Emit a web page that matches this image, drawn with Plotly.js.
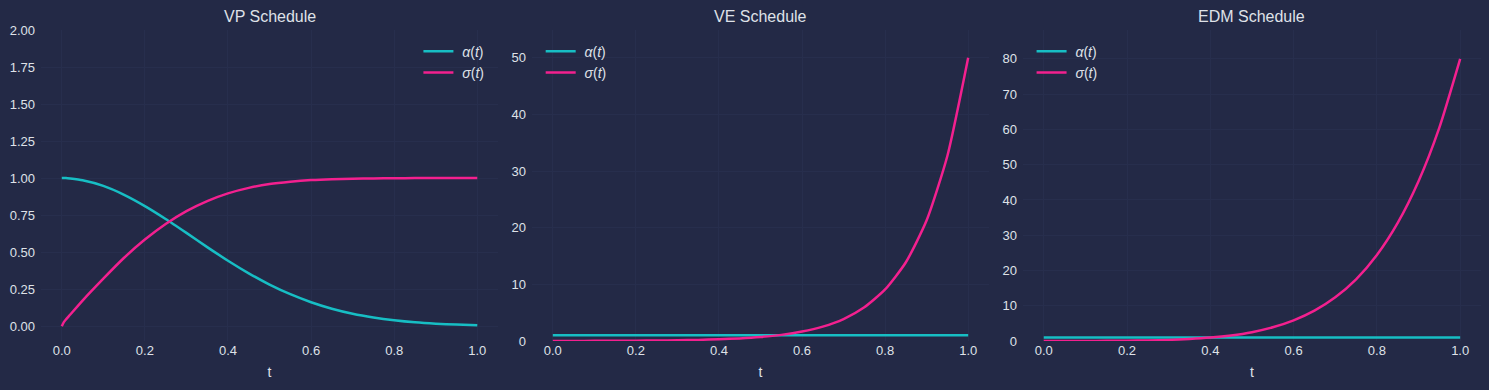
<!DOCTYPE html>
<html>
<head>
<meta charset="utf-8">
<script src="https://cdn.plot.ly/plotly-3.0.1.min.js"></script>
<style>
html,body{margin:0;padding:0;background:#232946;}
#chart{width:1489px;height:390px;}
</style>
</head>
<body>
<div id="chart"></div>
<script>
// Time grid (t)
const tGrid = [0, 0.005, 0.01, 0.02, 0.05, 0.1, 0.15, 0.2, 0.25, 0.3, 0.35, 0.4, 0.45, 0.5, 0.55, 0.6, 0.65, 0.7, 0.75, 0.8, 0.85, 0.9, 0.95, 1.0];

// VP schedule
const vpAlpha = [1.000, 1.000, 1.000, 0.997, 0.985, 0.947, 0.887, 0.811, 0.724, 0.630, 0.534, 0.442, 0.357, 0.281, 0.216, 0.162, 0.118, 0.084, 0.059, 0.040, 0.026, 0.017, 0.011, 0.007];
const vpSigma = [0.000, 0.027, 0.045, 0.077, 0.173, 0.321, 0.462, 0.585, 0.690, 0.777, 0.845, 0.897, 0.934, 0.960, 0.976, 0.987, 0.993, 0.996, 0.998, 0.999, 1.000, 1.000, 1.000, 1.000];

// VE schedule
const veAlpha = [1, 1, 1, 1, 1, 1, 1, 1, 1, 1, 1, 1, 1, 1, 1, 1, 1, 1, 1, 1, 1, 1, 1, 1];
const veSigma = [0.010, 0.010, 0.011, 0.012, 0.015, 0.023, 0.036, 0.055, 0.084, 0.129, 0.197, 0.302, 0.462, 0.707, 1.08, 1.66, 2.54, 3.88, 5.95, 9.10, 13.9, 21.3, 32.7, 50.0];

// EDM schedule
const edmAlpha = [1, 1, 1, 1, 1, 1, 1, 1, 1, 1, 1, 1, 1, 1, 1, 1, 1, 1, 1, 1, 1, 1, 1, 1];
const edmSigma = [0.002, 0.002, 0.003, 0.004, 0.006, 0.017, 0.040, 0.085, 0.170, 0.318, 0.566, 0.965, 1.58, 2.51, 3.88, 5.84, 8.59, 12.4, 17.5, 24.4, 33.5, 45.3, 60.5, 80.0];

const panelTitles = ["VP Schedule", "VE Schedule", "EDM Schedule"];
const seriesNames = ["\u00a0<i>α</i>(<i>t</i>)", "\u00a0<i>σ</i>(<i>t</i>)"];
const xTickVals = [0, 0.2, 0.4, 0.6, 0.8, 1.0];
const vpYTicks = [0, 0.25, 0.5, 0.75, 1.0, 1.25, 1.5, 1.75, 2.0];
const veYTicks = [0, 10, 20, 30, 40, 50];
const edmYTicks = [0, 10, 20, 30, 40, 50, 60, 70, 80];

const cAlpha = "#17bec4";
const cSigma = "#f3208f";
const bg = "#232946";
const grid = "#272e4d";
const txt = "#dfe1e8";
const fontFam = "Liberation Sans, Arial, sans-serif";

function mk(y, name, color, xa, ya, lg) {
  return {x: tGrid, y: y, name: name, type: "scatter", mode: "lines",
    line: {color: color, width: 2.5, shape: "spline", smoothing: 0.6},
    xaxis: xa, yaxis: ya, legend: lg, hoverinfo: "skip"};
}

const data = [
  mk(vpAlpha, seriesNames[0], cAlpha, "x", "y", "legend"),
  mk(vpSigma, seriesNames[1], cSigma, "x", "y", "legend"),
  mk(veAlpha, seriesNames[0], cAlpha, "x2", "y2", "legend2"),
  mk(veSigma, seriesNames[1], cSigma, "x2", "y2", "legend2"),
  mk(edmAlpha, seriesNames[0], cAlpha, "x3", "y3", "legend3"),
  mk(edmSigma, seriesNames[1], cSigma, "x3", "y3", "legend3")
];

const doms = [[0, 0.3174], [0.3410, 0.6583], [0.6819, 1]];

function xax(dom, anchor) {
  return {domain: dom, anchor: anchor, range: [-0.05, 1.05], tickvals: xTickVals, tickformat: ".1f",
    showgrid: true, gridcolor: grid, zeroline: false, showline: false, ticks: "",
    tickfont: {size: 13, color: txt}, title: {text: "t", font: {size: 14, color: txt}, standoff: 10}};
}
function yax(range, ticks, fmt, anchor) {
  return {range: range, tickvals: ticks, tickformat: fmt, anchor: anchor,
    showgrid: true, gridcolor: grid, zeroline: false, showline: false, ticks: "",
    ticklabelstandoff: 5, tickfont: {size: 13, color: txt}};
}
function lgd(x, xanchor) {
  return {x: x, xanchor: xanchor, y: 0.982, yanchor: "top", xref: "paper", yref: "paper",
    bgcolor: "rgba(0,0,0,0)", borderwidth: 0, font: {size: 14, color: txt, family: fontFam},
    itemwidth: 30, tracegroupgap: 0};
}

const annotations = panelTitles.map((t, i) => ({
  text: t, xref: "paper", yref: "paper", x: (doms[i][0] + doms[i][1]) / 2, y: 1,
  xanchor: "center", yanchor: "bottom", yshift: 3, showarrow: false,
  font: {size: 16, color: txt, family: fontFam}
}));

const layout = {
  width: 1489, height: 390,
  paper_bgcolor: bg, plot_bgcolor: bg,
  font: {family: fontFam, color: txt},
  margin: {l: 41, r: 8, t: 30, b: 49},
  showlegend: true,
  xaxis: xax(doms[0], "y"),
  xaxis2: xax(doms[1], "y2"),
  xaxis3: xax(doms[2], "y3"),
  yaxis: yax([-0.1, 2.0], vpYTicks, ".2f", "x"),
  yaxis2: yax([0, 54.9], veYTicks, "d", "x2"),
  yaxis3: yax([0, 88.2], edmYTicks, "d", "x3"),
  legend: lgd(doms[0][1] - 0.006, "right"),
  legend2: lgd(doms[1][0] + 0.006, "left"),
  legend3: lgd(doms[2][0] + 0.006, "left"),
  annotations: annotations
};

Plotly.newPlot("chart", data, layout, {displayModeBar: false, staticPlot: true});
</script>
</body>
</html>
